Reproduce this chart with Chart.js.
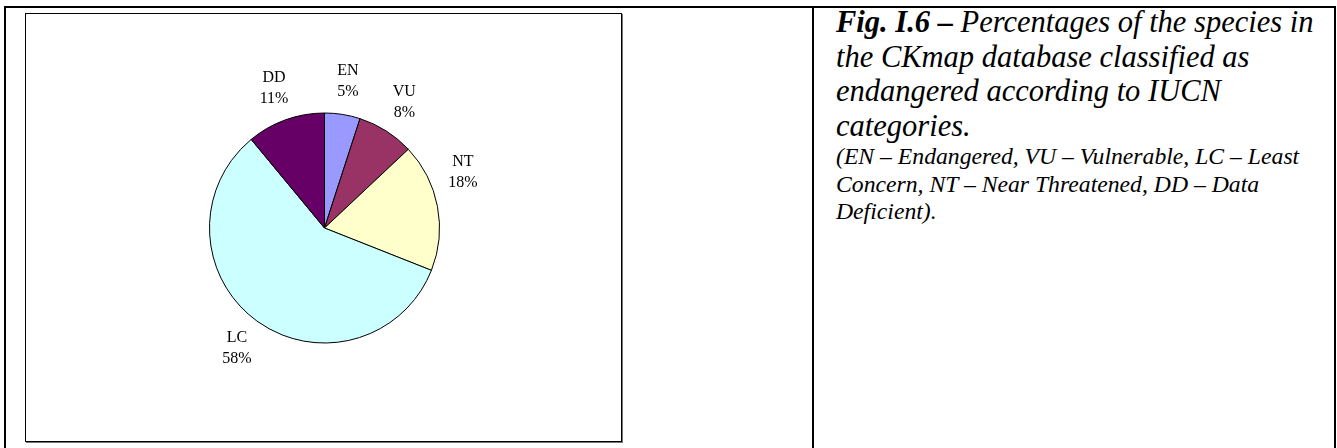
<!DOCTYPE html>
<html>
<head>
<meta charset="utf-8">
<script src="https://cdn.jsdelivr.net/npm/chart.js@4/dist/chart.umd.min.js"></script>
<style>
  html, body { margin: 0; padding: 0; background: #fff; }
  body { width: 1337px; height: 448px; position: relative; overflow: hidden; font-family: "Liberation Serif", "Times New Roman", serif; }
  .frame { position: absolute; left: 4px; top: 6px; width: 1328px; height: 460px; border: 2px solid #000; }
  .divider { position: absolute; left: 812px; top: 6px; width: 2px; height: 460px; background: #000; }
  .chartbox { position: absolute; left: 25px; top: 13px; width: 595px; height: 427px; border: 1px solid #000; box-shadow: 1px 1px 0 #777; background: #fff; }
  .chartbox canvas { position: absolute; left: 0; top: 0; }
  .caption { position: absolute; left: 836px; top: 5px; white-space: nowrap; color: #000; }
  .caption .main { font-style: italic; font-size: 30.5px; line-height: 34.5px; }
  .caption .main b { font-weight: bold; }
  .caption .note { font-style: italic; font-size: 23.7px; line-height: 27.5px; }
</style>
</head>
<body>
<div class="frame"></div>
<div class="divider"></div>
<div class="chartbox"><canvas id="pie" width="597" height="428"></canvas></div>
<div class="caption">
  <div class="main"><b>Fig. I.6 –</b> Percentages of the species in<br>the CKmap database classified as<br>endangered according to IUCN<br>categories.</div>
  <div class="note">(EN – Endangered, VU – Vulnerable, LC – Least<br>Concern, NT – Near Threatened, DD – Data<br>Deficient).</div>
</div>
<script>
// IUCN categories and their share of species (percent)
const categories = ['EN', 'VU', 'NT', 'LC', 'DD'];
const shares = [5, 8, 18, 58, 11];
const sliceColors = ['#9999FF', '#993366', '#FFFFCC', '#CCFFFF', '#660066'];

// Two-line outside labels: category name over its percentage
const outsideLabels = {
  id: 'outsideLabels',
  afterDatasetsDraw(chart, args, opts) {
    const ctx = chart.ctx;
    const meta = chart.getDatasetMeta(0);
    const data = chart.data.datasets[0].data;
    const total = data.reduce((a, b) => a + b, 0);
    ctx.save();
    ctx.font = opts.font;
    ctx.fillStyle = '#000';
    ctx.textAlign = 'center';
    ctx.textBaseline = 'middle';
    meta.data.forEach((arc, i) => {
      const p = arc.getProps(['x', 'y', 'startAngle', 'endAngle', 'outerRadius'], true);
      const shift = ((opts.angleShift || {})[i] || 0) * Math.PI / 180;
      const mid = (p.startAngle + p.endAngle) / 2 + shift;
      const r = p.outerRadius + opts.gap;
      const cx = p.x + Math.cos(mid) * r;
      const cy = p.y + Math.sin(mid) * r;
      const pct = Math.round(data[i] / total * 100) + '%';
      ctx.fillText(chart.data.labels[i], cx, cy - opts.lineHeight / 2);
      ctx.fillText(pct, cx, cy + opts.lineHeight / 2);
    });
    ctx.restore();
  }
};

new Chart(document.getElementById('pie'), {
  type: 'pie',
  data: {
    labels: categories,
    datasets: [{
      data: shares,
      backgroundColor: sliceColors,
      borderColor: '#000',
      borderWidth: 1
    }]
  },
  options: {
    responsive: false,
    animation: false,
    radius: 115,
    layout: { padding: 0 },
    plugins: {
      legend: { display: false },
      tooltip: { enabled: false },
      outsideLabels: { font: '16px "Liberation Serif", "Times New Roman", serif', gap: 34, lineHeight: 21, angleShift: { 2: -11 } }
    }
  },
  plugins: [outsideLabels]
});
</script>
</body>
</html>
